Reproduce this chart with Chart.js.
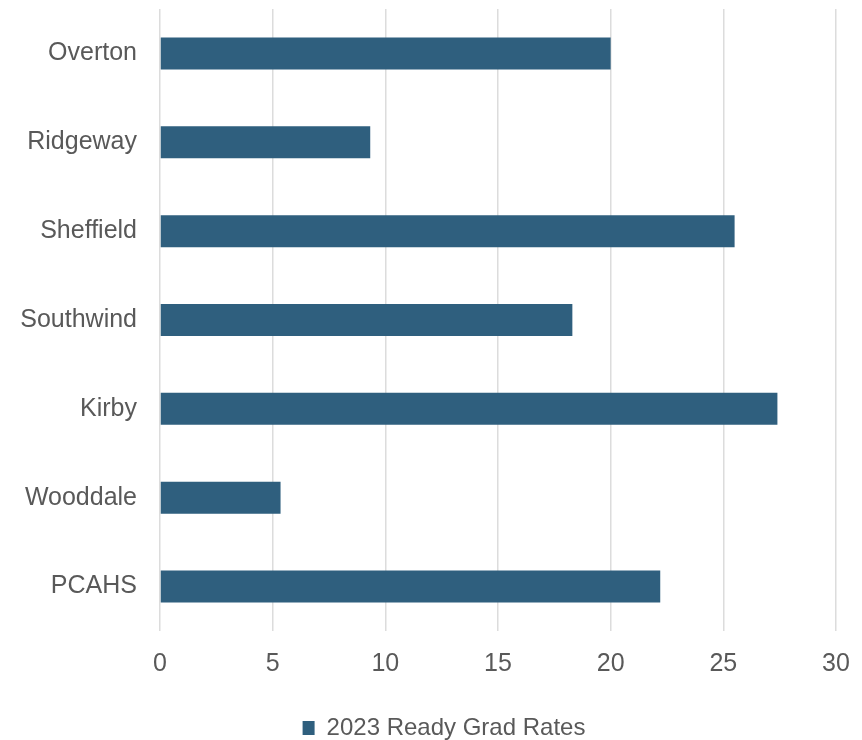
<!DOCTYPE html>
<html>
<head>
<meta charset="utf-8">
<title>2023 Ready Grad Rates</title>
<script src="https://cdn.jsdelivr.net/npm/chart.js@4.4.1/dist/chart.umd.min.js"></script>
<style>
  html, body { margin: 0; padding: 0; background: #ffffff; }
  #wrap { width: 862px; height: 740px; }
</style>
</head>
<body>
<div id="wrap"><canvas id="gradChart" width="862" height="740"></canvas></div>
<script>
const schools = ["Overton", "Ridgeway", "Sheffield", "Southwind", "Kirby", "Wooddale", "PCAHS"];
const readyGradRates = [20.0, 9.33, 25.5, 18.3, 27.4, 5.35, 22.2];
const xTicks = [0, 5, 10, 15, 20, 25, 30];
const seriesLabel = "2023 Ready Grad Rates";

const barColor = "#2f5f7e";
const textColor = "#595959";
const gridColor = "#dcdcdc";
const fontFamily = "'Liberation Sans', Arial, sans-serif";

Chart.defaults.font.family = fontFamily;
Chart.defaults.color = textColor;

// drop the label overhang padding so the plot area lands where the layout says
const noEdgePadding = (scale) => {
  scale.paddingTop = 0;
  scale.paddingBottom = 0;
  scale.paddingLeft = 0;
  scale.paddingRight = 0;
};

// the legend in the original sits a little right of centre and close to the bottom edge
const legendNudge = {
  id: "legendNudge",
  afterLayout(chart) {
    chart.legend.left += 26;
    chart.legend.right += 26;
    chart.legend.top += 10;
    chart.legend.bottom += 10;
  }
};

new Chart(document.getElementById("gradChart"), {
  type: "bar",
  data: {
    labels: schools,
    datasets: [
      {
        label: seriesLabel,
        data: readyGradRates,
        backgroundColor: barColor,
        borderWidth: 0,
        barPercentage: 0.36,
        categoryPercentage: 1
      }
    ]
  },
  options: {
    indexAxis: "y",
    responsive: false,
    animation: false,
    layout: {
      padding: { top: 9, right: 26, left: 0, bottom: 0 }
    },
    scales: {
      x: {
        min: xTicks[0],
        max: xTicks[xTicks.length - 1],
        afterBuildTicks: (scale) => {
          scale.ticks = xTicks.map((value) => ({ value }));
        },
        afterFit: (scale) => {
          noEdgePadding(scale);
          scale.height = 75;
        },
        grid: { color: gridColor, lineWidth: 1.5, drawTicks: false },
        border: { display: false },
        ticks: {
          padding: 18,
          font: { size: 25 },
          color: textColor
        }
      },
      y: {
        afterFit: (scale) => {
          scale.width = 160;
          noEdgePadding(scale);
        },
        grid: { display: false, drawTicks: false },
        border: { display: false },
        ticks: {
          padding: 23,
          font: { size: 25 },
          color: textColor
        }
      }
    },
    plugins: {
      legend: {
        position: "bottom",
        labels: {
          boxWidth: 12,
          boxHeight: 14,
          padding: 0,
          font: { size: 24 },
          color: textColor
        }
      },
      tooltip: { enabled: false }
    }
  },
  plugins: [legendNudge]
});
</script>
</body>
</html>
